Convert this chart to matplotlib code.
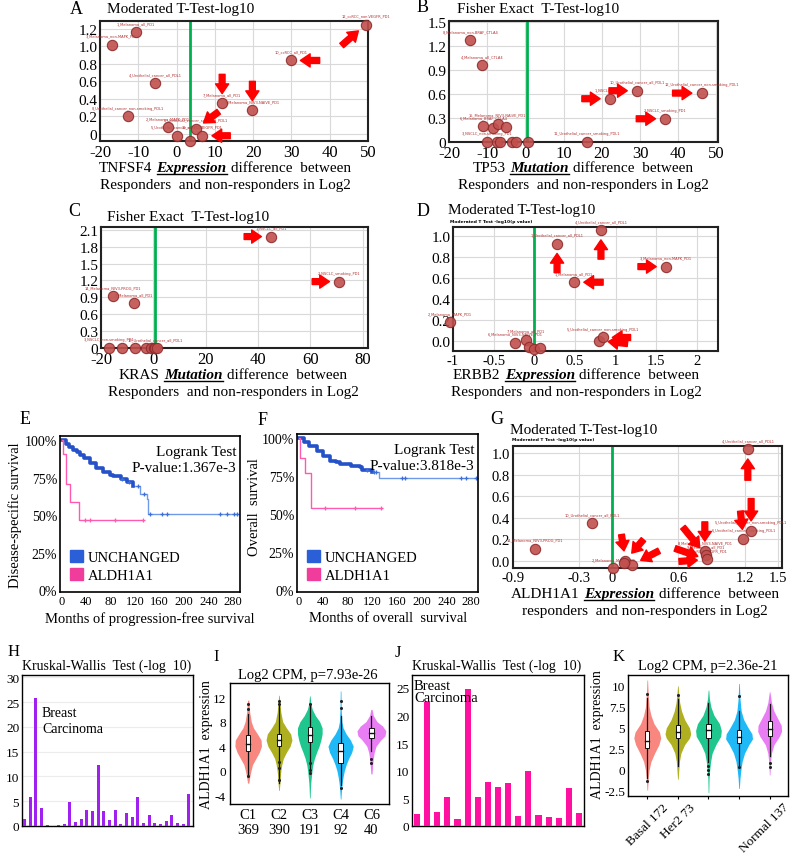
import numpy as np
import matplotlib
matplotlib.use("Agg")
import matplotlib.pyplot as plt
from matplotlib.patches import Patch, Rectangle
from matplotlib.lines import Line2D

plt.rcParams['font.family'] = ['Liberation Serif', 'DejaVu Serif']

W, H = 793, 854

# ---------------- data ----------------
# A: TNFSF4 expression (moderated t-test)
A_x = [49.4, -10.7, -16.8, -5.6, -12.8, 29.8, 11.9, 19.8, -2.2, 5.0, 0.1, 6.7, 3.6]
A_y = [1.25, 1.16, 1.02, 0.58, 0.20, 0.84, 0.35, 0.27, 0.08, 0.06, -0.02, -0.02, -0.08]
A_lab = ['12_ccRCC_non-VEGFR_PD1', '1_Melanoma_all_PD1', '3_Melanoma_non-MAPK_PD1',
         '4_Urothelial_cancer_all_PDL1', '8_Urothelial_cancer_non-smoking_PDL1',
         '10_ccRCC_all_PD1', '7_Melanoma_all_PD1', '9_Melanoma_NIV3-NAIVE_PD1',
         '2_Melanoma_MAPK_PD1', '6_Urothelial_cancer_smoking_PDL1',
         '5_Urothelial_cancer_all_PDL1', '11_ccRCC_VEGFR_PD1', '']

# B: TP53 mutation (fisher exact)
B_x = [-14.4, -11.4, 22.1, 29.2, 46.1, 36.6, -11.0, -8.4, -7.3, -5.1,
       -10.0, -7.5, -6.7, -3.5, -2.5, 0.8, 16.0]
B_y = [1.27, 0.96, 0.54, 0.64, 0.61, 0.29, 0.20, 0.17, 0.23, 0.19,
       0, 0, 0, 0, 0, 0, 0]
B_lab = ['8_Melanoma_non-BRAF_CTLA4', '4_Melanoma_all_CTLA4', '1_NSCLC_all_PD1',
         '10_Urothelial_cancer_all_PDL1', '12_Urothelial_cancer_non-smoking_PDL1',
         '2_NSCLC_smoking_PD1', '6_Melanoma_BRAF_CTLA4', '', '15_Melanoma_NIV3-NAIVE_PD1',
         '', '3_NSCLC_non-smoking_PD1', '', '', '', '', '', '11_Urothelial_cancer_smoking_PDL1']

# C: KRAS mutation (fisher exact)
C_x = [45.0, 71.0, -15.3, -7.3, -17.0, -12.0, -6.9, -3.0, -1.0, 0.3, 0.8, 1.5]
C_y = [1.98, 1.18, 0.92, 0.80, 0, 0, 0, 0, 0, 0, 0, 0]
C_lab = ['1_NSCLC_all_PD1', '2_NSCLC_smoking_PD1', '14_Melanoma_NIV3-PROG_PD1',
         '9_Melanoma_all_PD1', '3_NSCLC_non-smoking_PD1', '', '', '', '', '',
         '10_Urothelial_cancer_all_PDL1', '']

# D: ERBB2 expression (moderated t-test)
D_x = [0.82, 0.28, 1.62, 0.49, -1.04, -0.10, -0.24, 0.79, 0.84, -0.07, 0.0, 0.07]
D_y = [1.06, 0.93, 0.71, 0.56, 0.18, 0.01, -0.02, 0.0, 0.03, -0.06, -0.08, -0.07]
D_lab = ['4_Urothelial_cancer_all_PDL1', '1_Urothelial_cancer_all_PDL1',
         '3_Melanoma_non-MAPK_PD1', '1_Melanoma_all_PD1', '2_Melanoma_MAPK_PD1',
         '7_Melanoma_all_PD1', '6_Melanoma_NIV3-NAIVE_PD1', '',
         '5_Urothelial_cancer_non-smoking_PDL1', '', '', '']

# G: ALDH1A1 expression (moderated t-test)
G_x = [1.23, 1.26, 1.19, -0.18, -0.70, 0.84, 0.85, 0.86, 0.12, 0.18, 0.01, 0.11]
G_y = [1.04, 0.28, 0.20, 0.35, 0.11, 0.09, 0.05, 0.01, 0.0, -0.04, -0.07, -0.02]
G_lab = ['4_Urothelial_cancer_all_PDL1', '5_Urothelial_cancer_non-smoking_PDL1',
         '6_Urothelial_cancer_smoking_PDL1', '10_Urothelial_cancer_all_PDL1',
         '14_Melanoma_NIV3-PROG_PD1', '8_Melanoma_NIV3-NAIVE_PD1', '9_Melanoma_all_PD1',
         '11_ccRCC_VEGFR_PD1', '', '', '2_Melanoma_MAPK_PD1', '']

# E: disease-specific survival
E_unch_t = [0, 6, 12, 18, 24, 30, 36, 46, 56, 68, 78, 84, 96, 106, 117, 128, 139, 140, 288]
E_unch_s = [1.0, 0.975, 0.955, 0.935, 0.918, 0.90, 0.88, 0.85, 0.815, 0.784, 0.77,
            0.762, 0.74, 0.718, 0.695, 0.64, 0.607, 0.507, 0.507]
E_unch_cens = [98, 110, 125, 134, 144, 163, 171, 259, 269, 282, 286]
E_ald_t = [0, 2, 7, 14, 28, 132]
E_ald_s = [1.0, 0.907, 0.707, 0.585, 0.467, 0.467]
E_ald_cens = [38, 46, 87, 132]

# F: overall survival
F_unch_t = [0, 8, 16, 29, 40, 51, 60, 67, 84, 100, 103, 119, 131, 288]
F_unch_s = [1.0, 0.975, 0.95, 0.918, 0.885, 0.85, 0.84, 0.829, 0.818, 0.807, 0.79,
            0.78, 0.735, 0.735]
F_unch_cens = [110, 122, 126, 168, 173, 263, 271, 287]
F_ald_t = [0, 2, 10, 20, 135]
F_ald_s = [1.0, 0.868, 0.77, 0.54, 0.54]
F_ald_cens = [43, 91, 134]

# H / J: Kruskal-Wallis -log10 p
H_vals = [1.5, 5.9, 25.8, 3.7, 0.3, 0.0, 0.3, 0.4, 4.8, 0.8, 1.5, 3.3, 3.1, 12.4, 3.0,
          1.3, 3.3, 0.5, 2.7, 1.8, 5.8, 0.7, 2.2, 0.7, 0.4, 1.0, 2.2, 0.6, 0.4, 6.5]
J_vals = [2.2, 22.4, 2.5, 5.2, 1.3, 24.8, 5.2, 8.0, 7.0, 7.8, 1.8, 9.9, 1.9, 1.6, 1.4, 6.8, 2.3]

# I: ALDH1A1 by cluster (violin outlines)
I_groups = ['C1\n369', 'C2\n390', 'C3\n191', 'C4\n92', 'C6\n40']
I_vy = [[-2.0, -1.0, 0.0, 1.0, 2.0, 3.0, 4.0, 5.0, 6.0, 7.0, 8.0, 9.5, 11.5],
        [-3.2, -2, -1, 0, 1, 2, 3, 4, 5, 6, 7, 8, 9.5, 11, 12.3],
        [-4.4, -3, -2, -1, 0, 1, 2, 3, 4, 5, 6, 7, 8, 9, 10, 11, 12.2],
        [-4.6, -3, -2, -1, 0, 1, 2, 3, 4, 5, 6, 7, 8, 10, 13],
        [-0.5, 1, 2, 3, 4, 5, 5.7, 6.5, 7.3, 8, 9, 10]]
I_vw = [[0.02, 0.05, 0.09, 0.14, 0.25, 0.36, 0.43, 0.42, 0.30, 0.17, 0.10, 0.05, 0.02],
        [0.01, 0.03, 0.04, 0.06, 0.09, 0.14, 0.24, 0.36, 0.42, 0.38, 0.24, 0.12, 0.06, 0.03, 0.01],
        [0.01, 0.02, 0.03, 0.05, 0.07, 0.10, 0.15, 0.22, 0.30, 0.36, 0.40, 0.40, 0.32, 0.18, 0.08, 0.03, 0.01],
        [0.01, 0.03, 0.05, 0.08, 0.12, 0.18, 0.26, 0.36, 0.41, 0.32, 0.18, 0.08, 0.04, 0.02, 0.01],
        [0.02, 0.04, 0.06, 0.09, 0.15, 0.30, 0.44, 0.47, 0.36, 0.18, 0.06, 0.02]]
I_box = [(3.3, 4.3, 5.8), (4.0, 5.0, 6.0), (4.7, 5.8, 7.2), (1.2, 3.2, 4.5), (5.3, 6.1, 7.0)]
I_whisk = [(-0.6, 9.3), (-2.0, 10.5), (0.5, 10.5), (-2.3, 9.0), (3.3, 9.0)]
I_out = [[-0.9, 10.0, 10.8], [-1.5, 0.5, 1.5, 10.9, 11.3], [-0.3, 0.2, 1.2, 10.8],
         [-2.8, 10.2, 11.3], [1.3, 1.9]]

# K: ALDH1A1 by PAM50 subtype
K_groups = ['Basal 172', 'Her2 73', '', '', 'Normal 137']
K_vy = [[-2.4, -1, 0, 1, 2, 3, 3.8, 4.5, 5.5, 6.5, 7.5, 9, 10.7],
        [-1.1, 0, 1, 2, 3, 3.8, 4.3, 5, 6, 7, 8, 9, 10],
        [-2.7, -1, 0, 1, 2, 3, 4, 4.7, 5.5, 6.5, 7.5, 8.5, 9.5],
        [-2.2, -1, 0, 1, 2, 3, 3.7, 4.3, 5, 6, 7, 8.5, 10.3],
        [-0.6, 1, 2, 3, 4, 4.6, 5.3, 6, 7, 8, 9.3]]
K_vw = [[0.01, 0.03, 0.06, 0.12, 0.24, 0.38, 0.44, 0.40, 0.22, 0.12, 0.06, 0.03, 0.01],
        [0.01, 0.03, 0.05, 0.10, 0.22, 0.38, 0.42, 0.38, 0.22, 0.12, 0.06, 0.03, 0.01],
        [0.01, 0.02, 0.04, 0.07, 0.12, 0.24, 0.40, 0.42, 0.36, 0.18, 0.08, 0.03, 0.01],
        [0.01, 0.03, 0.06, 0.10, 0.18, 0.32, 0.44, 0.42, 0.30, 0.15, 0.07, 0.03, 0.01],
        [0.01, 0.03, 0.06, 0.14, 0.32, 0.39, 0.38, 0.28, 0.14, 0.06, 0.01]]
K_box = [(2.6, 3.5, 4.6), (3.8, 4.5, 5.4), (3.8, 4.7, 5.5), (3.2, 3.9, 4.7), (4.0, 4.9, 5.8)]
K_whisk = [(-1.0, 8.6), (0.5, 8.5), (1.0, 8.0), (0.6, 7.0), (1.7, 7.8)]
K_out = [[9.0, -1.3], [8.9], [-0.5, 0.0, 0.5], [8.8, 0.3], [0.3, 0.8]]

VIO_COLORS = ['#F8766D', '#A3A500', '#00BF7D', '#00B0F6', '#E76BF3']

# ---------------- figure ----------------
fig = plt.figure(figsize=(W / 100, H / 100), dpi=100)


def fx(px):
    return px / W


def fy(py):
    return 1 - py / H


def rect(l, t, r, b):
    return [l / W, 1 - b / H, (r - l) / W, (b - t) / H]


def label(x, y, s, size=13, **kw):
    fig.text(fx(x), fy(y), s, fontsize=size, va='center', **kw)


ARROW = dict(arrowstyle='simple,head_length=0.7,head_width=0.95,tail_width=0.42',
             fc='#ff0000', ec='#ff0000', shrinkA=0, shrinkB=7)


def scatter_panel(r, xs, ys, labs, arrows, green, xlim, ylim, xt, xtl, yt, ytl, xfs=12, yfs=11):
    ax = fig.add_axes(r)
    ax.set_xlim(*xlim)
    ax.set_ylim(*ylim)
    ax.set_xticks(xt)
    ax.set_xticklabels(xtl, fontsize=xfs)
    ax.set_yticks(yt)
    ax.set_yticklabels(ytl, fontsize=yfs)
    ax.tick_params(length=0, pad=2)
    ax.grid(True, color='#d9d9d9', lw=0.8)
    ax.set_axisbelow(True)
    for sp in ax.spines.values():
        sp.set_linewidth(1.5)
        sp.set_color('#222222')
    ax.axvline(green, color='#00b050', lw=2, zorder=2)
    ax.scatter(xs, ys, s=55, c='#c0504d', edgecolors='#8e2b2b', linewidths=0.8,
               alpha=0.9, zorder=4, clip_on=False)
    for x, y, l in zip(xs, ys, labs):
        if l:
            ax.annotate(l, (x, y), xytext=(0, 5), textcoords='offset points', ha='center',
                        va='bottom', fontsize=2.6, color='#b03030', family='DejaVu Sans',
                        zorder=3, annotation_clip=False)
    for i, dx, dy in arrows:
        ax.annotate('', xy=(xs[i], ys[i]), xytext=(dx, dy), textcoords='offset pixels',
                    arrowprops=ARROW, zorder=6, annotation_clip=False)
    return ax


def rich_label(cx, y, parts, size=11):
    # one line with a bold-italic underlined word in it
    r = fig.canvas.get_renderer()
    arts = []
    for s, st in parts:
        kw = dict(fontweight='bold', fontstyle='italic') if st else {}
        arts.append(fig.text(0, fy(y), s, fontsize=size, va='baseline', ha='left', **kw))
    gap = size * 0.3 * 100 / 72
    ws = [a.get_window_extent(r).width for a in arts]
    x = cx - (sum(ws) + gap * (len(ws) - 1)) / 2
    for a, w, (s, st) in zip(arts, ws, parts):
        a.set_x(fx(x))
        if st:
            fig.add_artist(Line2D([fx(x), fx(x + w)], [fy(y + 2.5)] * 2, color='k', lw=1))
        x += w + gap


def xlabel2(cx, y, gene, kind, line2):
    rich_label(cx, y, [(gene, False), (kind, True), ('difference  between', False)])
    fig.text(fx(cx), fy(y + 17), line2, fontsize=11, ha='center', va='baseline')


# A
scatter_panel(rect(100, 22, 368, 142), A_x, A_y, A_lab,
              [(0, -24, -21), (5, 29, 0), (6, 0, 29), (7, 0, 29), (9, 23, 17), (11, 28, 0)],
              3.5, (-20, 50), (-0.08, 1.29),
              np.arange(-20, 51, 10), [str(v) for v in range(-20, 51, 10)],
              [0, 0.2, 0.4, 0.6, 0.8, 1.0, 1.2], ['0', '0.2', '0.4', '0.6', '0.8', '1.0', '1.2'])
label(70, 10, 'A')
label(107, 10, 'Moderated T-Test-log10', 11)
xlabel2(225, 172, 'TNFSF4', 'Expression', 'Responders  and non-responders in Log2')

# B
scatter_panel(rect(449, 22, 718, 143), B_x, B_y, B_lab,
              [(2, -28, 0), (3, -28, 0), (4, -29, 0), (5, -29, 0)],
              0.5, (-20, 50.4), (0, 1.51),
              np.arange(-20, 51, 10), [str(v) for v in range(-20, 51, 10)],
              [0, 0.3, 0.6, 0.9, 1.2, 1.5], ['0', '0.3', '0.6', '0.9', '1.2', '1.5'])
label(417, 8, 'B')
label(457, 10, 'Fisher Exact  T-Test-log10', 11)
xlabel2(583, 172, 'TP53', 'Mutation', 'Responders  and non-responders in Log2')

# C
scatter_panel(rect(101, 228, 368, 349), C_x, C_y, C_lab,
              [(0, -27, 0), (1, -27, 0)],
              0.8, (-20, 82), (0, 2.15),
              np.arange(-20, 81, 20), [str(v) for v in range(-20, 81, 20)],
              [0, 0.3, 0.6, 0.9, 1.2, 1.5, 1.8, 2.1],
              ['0', '0.3', '0.6', '0.9', '1.2', '1.5', '1.8', '2.1'])
label(68, 212, 'C')
label(107, 218, 'Fisher Exact  T-Test-log10', 11)
xlabel2(233, 379, 'KRAS', 'Mutation', 'Responders  and non-responders in Log2')

# D
scatter_panel(rect(453, 228, 718, 352), D_x, D_y, D_lab,
              [(0, 0, -29), (1, 0, -29), (3, 29, 0), (2, -28, 0), (8, 28, 0), (7, 29, -3)],
              0.0, (-1, 2.26), (-0.10, 1.09),
              [-1, -0.5, 0, 0.5, 1, 1.5, 2], ['-1', '-0.5', '0', '0.5', '1', '1.5', '2'],
              [0, 0.2, 0.4, 0.6, 0.8, 1.0], ['0.0', '0.2', '0.4', '0.6', '0.8', '1.0'],
              xfs=10.5, yfs=11)
label(417, 212, 'D')
label(448, 211, 'Moderated T-Test-log10', 11)
fig.text(fx(450), fy(222), 'Moderated T Test -log10(p value)', fontsize=3.2,
         fontweight='bold', family='DejaVu Sans', va='center')
xlabel2(576, 379, 'ERBB2', 'Expression', 'Responders  and non-responders in Log2')

# G
scatter_panel(rect(513, 447, 782, 569), G_x, G_y, G_lab,
              [(0, 0, -31), (1, 0, 32), (2, -3, 28), (5, 0, 29), (6, -23, 28), (7, -32, 11),
               (7, -28, -2), (8, -4, 26), (8, 18, 21), (9, 27, 14)],
              0.0, (-0.9, 1.54), (-0.07, 1.07),
              [-0.9, -0.3, 0, 0.6, 1.2, 1.5], ['-0.9', '-0.3', '0', '0.6', '1.2', '1.5'],
              [0, 0.2, 0.4, 0.6, 0.8, 1.0], ['0.0', '0.2', '0.4', '0.6', '0.8', '1.0'],
              xfs=10.5, yfs=10.5)
label(490, 420, 'G')
label(510, 431, 'Moderated T-Test-log10', 11)
fig.text(fx(512), fy(440), 'Moderated T Test -log10(p value)', fontsize=3.2,
         fontweight='bold', family='DejaVu Sans', va='center')
xlabel2(645, 598, 'ALDH1A1', 'Expression', 'responders  and non-responders in Log2')


# E / F Kaplan-Meier
def step_at(t, s, c):
    return [s[np.searchsorted(t, v, side='right') - 1] for v in c]


def km_panel(r, bt, bs, nthick, bc, pt, ps, pc, pval):
    ax = fig.add_axes(r)
    ax.step(bt, bs, where='post', color='#6f9ae8', lw=1.0)
    ax.step(bt[:nthick], bs[:nthick], where='post', color='#2552c9', lw=2.6)
    ax.plot(bc, step_at(bt, bs, bc), ls='none', marker='+', ms=3, mew=0.9, color='#3d6fdc')
    ax.step(pt, ps, where='post', color='#ff5aae', lw=1.0)
    ax.plot(pc, step_at(pt, ps, pc), ls='none', marker='+', ms=3, mew=0.9, color='#ff5aae')
    ax.set_xlim(-3, 291)
    ax.set_ylim(-0.013, 1.027)
    ax.set_xticks(range(0, 281, 40))
    ax.set_xticklabels([str(v) for v in range(0, 281, 40)], fontsize=9)
    ax.set_yticks([0, 0.25, 0.5, 0.75, 1.0])
    ax.set_yticklabels(['0%', '25%', '50%', '75%', '100%'], fontsize=10)
    ax.tick_params(length=0, pad=2)
    for sp in ax.spines.values():
        sp.set_linewidth(1.2)
    ax.text(0.98, 0.9, 'Logrank Test', transform=ax.transAxes, ha='right', va='center', fontsize=11)
    ax.text(0.98, 0.8, 'P-value:' + pval, transform=ax.transAxes, ha='right', va='center', fontsize=11)
    ax.legend([Patch(color='#2b5fd8'), Patch(color='#f03c9a')], ['UNCHANGED', 'ALDH1A1'],
              loc='lower left', frameon=False, fontsize=10.5, handlelength=0.9,
              handleheight=0.9, handletextpad=0.3, borderaxespad=0.3, labelspacing=0.25)
    return ax


km_panel(rect(60, 437, 240, 593), E_unch_t, E_unch_s, 15, E_unch_cens,
         E_ald_t, E_ald_s, E_ald_cens, '1.367e-3')
label(20, 420, 'E')
fig.text(fx(15), fy(515), 'Disease-specific survival', rotation=90, fontsize=10.5,
         ha='center', va='center')
fig.text(fx(150), fy(619), 'Months of progression-free survival', fontsize=10.5,
         ha='center', va='center')

km_panel(rect(297, 435, 478, 593), F_unch_t, F_unch_s, 12, F_unch_cens,
         F_ald_t, F_ald_s, F_ald_cens, '3.818e-3')
label(258, 421, 'F')
fig.text(fx(255), fy(507), 'Overall  survival', rotation=90, fontsize=10.5,
         ha='center', va='center')
fig.text(fx(388), fy(619), 'Months of overall  survival', fontsize=10.5,
         ha='center', va='center')


# H / J bar charts
def bar_panel(r, vals, color, width, ylim, yt, grid):
    ax = fig.add_axes(r)
    ax.bar(range(len(vals)), vals, width=width, color=color, zorder=3)
    ax.set_xlim(-0.5, len(vals) - 0.5)
    ax.set_ylim(*ylim)
    ax.set_xticks([])
    ax.set_yticks(yt)
    ax.set_yticklabels([str(v) for v in yt], fontsize=9.5)
    ax.tick_params(length=0, pad=2)
    if grid:
        ax.yaxis.grid(True, color='#ececec', lw=0.8)
        ax.set_axisbelow(True)
    for sp in ax.spines.values():
        sp.set_linewidth(1.0)
    return ax


axH = bar_panel(rect(22, 676, 193, 827), H_vals, '#a020f0', 0.5, (0, 30.5),
                [0, 5, 10, 15, 20, 25, 30], True)
axH.set_xlim(-0.45, len(H_vals) - 0.25)
label(8, 652, 'H', 12)
fig.text(fx(107), fy(666), 'Kruskal-Wallis  Test (-log  10)', fontsize=10, ha='center', va='center')
fig.text(fx(42), fy(707), 'Breast\nCarcinoma', fontsize=10, ha='left', va='top',
         linespacing=1.3)

axJ = bar_panel(rect(412, 676, 584, 827), J_vals, '#ff10a0', 0.6, (0, 27.3),
                [0, 5, 10, 15, 20, 25], False)
label(395, 653, 'J', 12)
fig.text(fx(497), fy(666), 'Kruskal-Wallis  Test (-log  10)', fontsize=10, ha='center', va='center')
fig.text(fx(414), fy(680), 'Breast\nCarcinoma', fontsize=10.5, ha='left', va='top',
         linespacing=0.95)


# I / K violins
def violin_panel(r, vys, vws, boxes, whisks, outs, names, ylim, xlim, yt, ytl, title_xy, title):
    ax = fig.add_axes(r)
    for i in range(len(vys)):
        y = np.array(vys[i])
        w = np.array(vws[i])
        ax.fill_betweenx(y, i - w, i + w, color=VIO_COLORS[i], alpha=0.88, lw=0, zorder=2)
        lo, hi = whisks[i]
        ax.plot([i, i], [lo, hi], color='#111111', lw=0.9, zorder=3)
        q1, med, q3 = boxes[i]
        ax.add_patch(Rectangle((i - 0.07, q1), 0.14, q3 - q1, fc='white', ec='#111111',
                               lw=0.7, zorder=4))
        ax.plot([i - 0.07, i + 0.07], [med, med], color='#111111', lw=1.0, zorder=5)
        ax.scatter([i] * len(outs[i]), outs[i], s=1.5, c='#222222', zorder=5)
    ax.set_xlim(*xlim)
    ax.set_ylim(*ylim)
    ax.set_yticks(yt)
    ax.set_yticklabels(ytl, fontsize=9.5)
    ax.set_xticks(range(len(names)))
    for sp in ax.spines.values():
        sp.set_linewidth(1.0)
    fig.text(fx(title_xy[0]), fy(title_xy[1]), title, fontsize=10.5, ha='center', va='center')
    return ax


axI = violin_panel(rect(230, 684, 389, 805), I_vy, I_vw, I_box, I_whisk, I_out, I_groups,
                   (-5.4, 14.3), (-0.59, 4.57), [-4, 0, 4, 8, 12], ['-4', '0', '4', '8', '12'],
                   (308, 676), 'Log2 CPM, p=7.93e-26')
axI.set_xticklabels(I_groups, fontsize=10.5, linespacing=1.2)
axI.tick_params(length=0, pad=3)
label(213, 657, 'I', 12)
fig.text(fx(207), fy(745), 'ALDH1A1  expression', rotation=90, fontsize=10,
         ha='center', va='center')

axK = violin_panel(rect(628, 676, 788, 797), K_vy, K_vw, K_box, K_whisk, K_out, K_groups,
                   (-3.1, 11.3), (-0.63, 4.6), [-2.5, 0, 2.5, 5, 7.5, 10],
                   ['-2.5', '0', '2.5', '5', '7.5', '10'], (708, 667), 'Log2 CPM, p=2.36e-21')
axK.set_xticklabels([''] * len(K_groups))
axK.tick_params(axis='x', length=2.5)
axK.tick_params(axis='y', length=0, pad=2)
# rotated group names, the last one nudged left so it stays inside the figure
for i, name in enumerate(K_groups):
    if name:
        axK.annotate(name, xy=(i, 0), xycoords=axK.get_xaxis_transform(),
                     xytext=(-5 if i == len(K_groups) - 1 else 0, -5),
                     textcoords='offset pixels', rotation=45, ha='center', va='top',
                     fontsize=9.5, annotation_clip=False)
label(613, 657, 'K', 12)
fig.text(fx(598), fy(735), 'ALDH1A1  expression', rotation=90, fontsize=10,
         ha='center', va='center')

fig.savefig('out.png', dpi=100)
